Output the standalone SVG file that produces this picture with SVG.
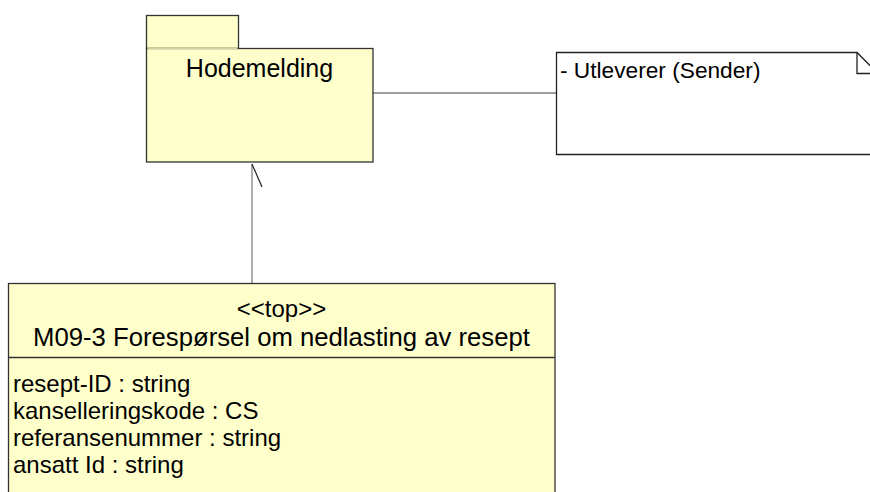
<svg xmlns="http://www.w3.org/2000/svg" width="870" height="492" viewBox="0 0 870 492">
<style>
text{font-family:"Liberation Sans",Arial,sans-serif;fill:#000}
.box{fill:#FFFFCC;stroke:#333;stroke-width:1.3}
.conn{fill:none;stroke:#808080;stroke-width:1.3}
</style>
<rect width="870" height="492" fill="#fff"/>
<g id="connectors">
<line class="conn" x1="373" y1="93" x2="556" y2="93" stroke="#555"/>
<line class="conn" x1="252" y1="164" x2="252" y2="283"/>
<line x1="252" y1="164" x2="262" y2="187" stroke="#222" stroke-width="1.2"/>
</g>
<g id="hodemelding">
<rect class="box" x="146.5" y="15.5" width="92" height="33"/>
<rect class="box" x="146.5" y="48.5" width="226.5" height="113.5"/>
<line x1="147.5" y1="48.5" x2="237.5" y2="48.5" stroke="#d6d3a8" stroke-width="1.3"/>
<text x="259.5" y="77" font-size="25" text-anchor="middle">Hodemelding</text>
</g>
<g id="note">
<path d="M556.5,52.5 H857 L871,66.5 V154.5 H556.5 Z" fill="#fff" stroke="#222" stroke-width="1.3"/>
<path d="M857,52.5 V73.5 H871" fill="none" stroke="#222" stroke-width="1.3"/>
<text x="560" y="78" font-size="22.7">- Utleverer (Sender)</text>
</g>
<g id="m09-3">
<rect class="box" x="8.5" y="283.5" width="546.5" height="220"/>
<line x1="8.5" y1="357.5" x2="555" y2="357.5" stroke="#333" stroke-width="1.3"/>
<text x="281.5" y="317" font-size="24" text-anchor="middle">&lt;&lt;top&gt;&gt;</text>
<text x="281.5" y="346" font-size="25.7" text-anchor="middle">M09-3 Forespørsel om nedlasting av resept</text>
<text x="13" y="392" font-size="24">resept-ID : string</text>
<text x="13" y="419" font-size="24">kanselleringskode : CS</text>
<text x="13" y="446" font-size="24">referansenummer : string</text>
<text x="13" y="473" font-size="24">ansatt Id : string</text>
</g>
</svg>
